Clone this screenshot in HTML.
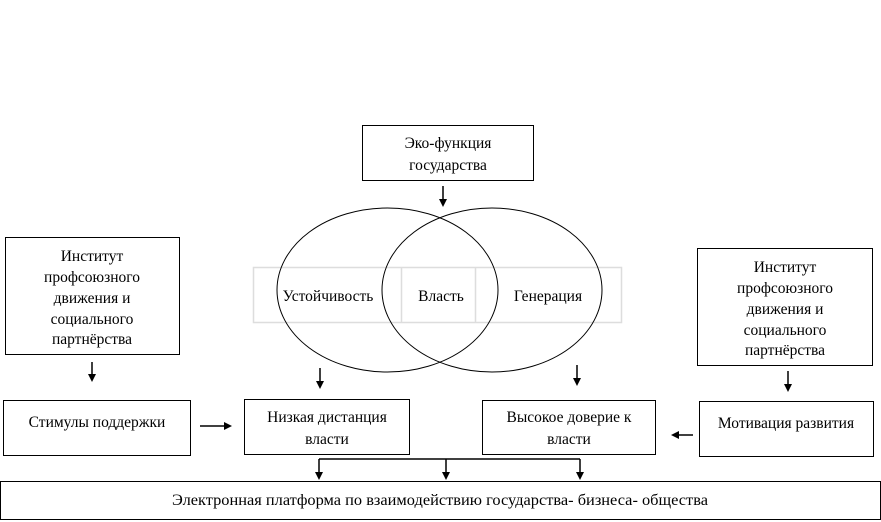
<!DOCTYPE html>
<html><head><meta charset="utf-8"><style>
html,body{margin:0;padding:0;background:#fff;width:881px;height:522px;overflow:hidden}
svg text{font-family:"Liberation Serif",serif;font-size:15.5px;fill:#000}
</style></head><body>
<svg width="881" height="522" viewBox="0 0 881 522" xmlns="http://www.w3.org/2000/svg">
<defs><marker id="a" markerWidth="8" markerHeight="8" refX="4" refY="4" orient="auto" markerUnits="userSpaceOnUse"><path d="M0,0 L8,4 L0,8 z" fill="#000"/></marker></defs>
<g fill="none" stroke="#000" stroke-width="1">
<rect x="362.5" y="125.5" width="171" height="55"/>
<rect x="5.5" y="237.5" width="174" height="117"/>
<rect x="697.5" y="248.5" width="175" height="117"/>
<rect x="3.5" y="400.5" width="187" height="55"/>
<rect x="244.5" y="399.5" width="165" height="55"/>
<rect x="482.5" y="400.5" width="173" height="54"/>
<rect x="699.5" y="401.5" width="174" height="55"/>
<rect x="0.5" y="481.5" width="880" height="38"/>
</g>
<g fill="none" stroke="#ddd" stroke-width="1.5">
<rect x="253.5" y="267.5" width="368" height="55"/>
<line x1="401.5" y1="267" x2="401.5" y2="322"/>
<line x1="475.5" y1="267" x2="475.5" y2="322"/>
</g>
<g fill="none" stroke="#000" stroke-width="1">
<ellipse cx="387.5" cy="290" rx="110.5" ry="82"/>
<ellipse cx="492" cy="290" rx="110" ry="82"/>
</g>
<g stroke="#000" stroke-width="1.5" fill="none">
<line x1="443" y1="186" x2="443" y2="203" marker-end="url(#a)"/>
<line x1="320" y1="368" x2="320" y2="385" marker-end="url(#a)"/>
<line x1="577" y1="365" x2="577" y2="382" marker-end="url(#a)"/>
<line x1="92" y1="362" x2="92" y2="378" marker-end="url(#a)"/>
<line x1="788" y1="371" x2="788" y2="388" marker-end="url(#a)"/>
<line x1="200" y1="426" x2="228" y2="426" marker-end="url(#a)"/>
<line x1="693" y1="435" x2="675" y2="435" marker-end="url(#a)"/>
<line x1="319" y1="459" x2="580" y2="459"/>
<line x1="319" y1="459" x2="319" y2="476" marker-end="url(#a)"/>
<line x1="446" y1="459" x2="446" y2="476" marker-end="url(#a)"/>
<line x1="580" y1="459" x2="580" y2="476" marker-end="url(#a)"/>
</g>
<g text-anchor="middle">
<text x="448" y="148">Эко-функция</text>
<text x="448" y="170">государства</text>
<text x="92" y="261">Институт</text>
<text x="92" y="282">профсоюзного</text>
<text x="92" y="303">движения и</text>
<text x="92" y="324">социального</text>
<text x="92" y="344">партнёрства</text>
<text x="785" y="272">Институт</text>
<text x="785" y="293">профсоюзного</text>
<text x="785" y="314">движения и</text>
<text x="785" y="335">социального</text>
<text x="785" y="355">партнёрства</text>
<text x="328" y="301">Устойчивость</text>
<text x="441" y="301">Власть</text>
<text x="548" y="301">Генерация</text>
<text x="97" y="427">Стимулы поддержки</text>
<text x="327" y="422">Низкая дистанция</text>
<text x="327" y="444">власти</text>
<text x="569" y="422">Высокое доверие к</text>
<text x="569" y="444">власти</text>
<text x="786" y="428">Мотивация развития</text>
<text x="440" y="505" textLength="536" lengthAdjust="spacingAndGlyphs">Электронная платформа по взаимодействию государства- бизнеса- общества</text>
</g>
</svg>
</body></html>
